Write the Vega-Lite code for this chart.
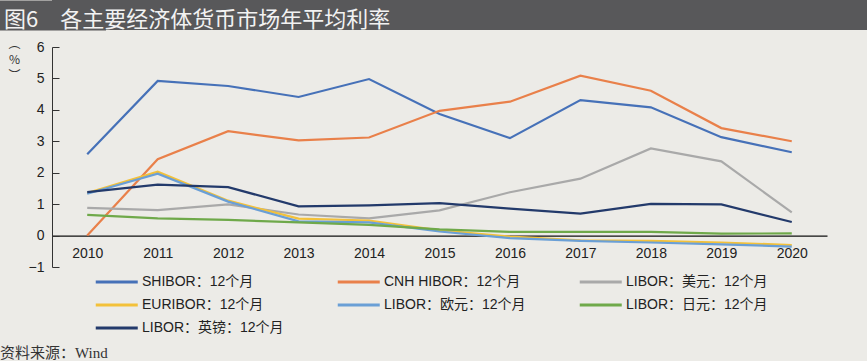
{
  "$schema": "https://vega.github.io/schema/vega-lite/v6.json",
  "background": "#ECEBE7",
  "padding": 0,
  "spacing": 4,
  "resolve": {"scale": {"color": "independent", "y": "independent"}, "legend": {"color": "independent"}, "axis": {"y": "independent"}},
  "config": {"view": {"stroke": null}, "axis": {"grid": false}},
  "vconcat": [
    {
      "width": 815,
      "height": 30,
      "view": {"fill": "#58585A", "stroke": null},
      "title": {"text": "图6　各主要经济体货币市场年平均利率", "orient": "bottom", "anchor": "start", "frame": "group", "offset": -23, "dx": -48, "baseline": "top", "font": "Noto Sans CJK SC", "fontSize": 22, "fontWeight": "normal", "color": "#F2F2F2", "zindex": 2},
      "data": {"values": [{"t": 0}]},
      "mark": {"type": "point", "opacity": 0},
      "encoding": {
        "y": {"field": "t", "type": "quantitative", "scale": {"domain": [0, 1]}, "axis": {"labels": false, "ticks": false, "title": null, "grid": false, "domain": true, "domainColor": "#58585A", "domainWidth": 107, "domainCap": "butt", "zindex": 0}}
      }
    },
    {
      "width": 775,
      "height": 220,
      "title": {"text": "资料来源：Wind", "orient": "bottom", "anchor": "start", "frame": "group", "dx": -52, "offset": 11, "font": "Liberation Serif, Noto Sans CJK SC", "fontSize": 15, "fontWeight": "normal", "color": "#333333"},
      "data": {"values": [
        {"year": 2010, "series": "SHIBOR：12个月", "value": 2.59},
        {"year": 2011, "series": "SHIBOR：12个月", "value": 4.92},
        {"year": 2012, "series": "SHIBOR：12个月", "value": 4.76},
        {"year": 2013, "series": "SHIBOR：12个月", "value": 4.41},
        {"year": 2014, "series": "SHIBOR：12个月", "value": 4.98},
        {"year": 2015, "series": "SHIBOR：12个月", "value": 3.87},
        {"year": 2016, "series": "SHIBOR：12个月", "value": 3.10},
        {"year": 2017, "series": "SHIBOR：12个月", "value": 4.31},
        {"year": 2018, "series": "SHIBOR：12个月", "value": 4.08},
        {"year": 2019, "series": "SHIBOR：12个月", "value": 3.13},
        {"year": 2020, "series": "SHIBOR：12个月", "value": 2.65},
        {"year": 2010, "series": "CNH HIBOR：12个月", "value": 0.0},
        {"year": 2011, "series": "CNH HIBOR：12个月", "value": 2.43},
        {"year": 2012, "series": "CNH HIBOR：12个月", "value": 3.32},
        {"year": 2013, "series": "CNH HIBOR：12个月", "value": 3.03},
        {"year": 2014, "series": "CNH HIBOR：12个月", "value": 3.12},
        {"year": 2015, "series": "CNH HIBOR：12个月", "value": 3.97},
        {"year": 2016, "series": "CNH HIBOR：12个月", "value": 4.26},
        {"year": 2017, "series": "CNH HIBOR：12个月", "value": 5.09},
        {"year": 2018, "series": "CNH HIBOR：12个月", "value": 4.61},
        {"year": 2019, "series": "CNH HIBOR：12个月", "value": 3.42},
        {"year": 2020, "series": "CNH HIBOR：12个月", "value": 3.00},
        {"year": 2010, "series": "LIBOR：美元：12个月", "value": 0.88},
        {"year": 2011, "series": "LIBOR：美元：12个月", "value": 0.81},
        {"year": 2012, "series": "LIBOR：美元：12个月", "value": 0.99},
        {"year": 2013, "series": "LIBOR：美元：12个月", "value": 0.67},
        {"year": 2014, "series": "LIBOR：美元：12个月", "value": 0.55},
        {"year": 2015, "series": "LIBOR：美元：12个月", "value": 0.80},
        {"year": 2016, "series": "LIBOR：美元：12个月", "value": 1.38},
        {"year": 2017, "series": "LIBOR：美元：12个月", "value": 1.81},
        {"year": 2018, "series": "LIBOR：美元：12个月", "value": 2.77},
        {"year": 2019, "series": "LIBOR：美元：12个月", "value": 2.36},
        {"year": 2020, "series": "LIBOR：美元：12个月", "value": 0.74},
        {"year": 2010, "series": "EURIBOR：12个月", "value": 1.35},
        {"year": 2011, "series": "EURIBOR：12个月", "value": 2.03},
        {"year": 2012, "series": "EURIBOR：12个月", "value": 1.11},
        {"year": 2013, "series": "EURIBOR：12个月", "value": 0.54},
        {"year": 2014, "series": "EURIBOR：12个月", "value": 0.48},
        {"year": 2015, "series": "EURIBOR：12个月", "value": 0.17},
        {"year": 2016, "series": "EURIBOR：12个月", "value": -0.03},
        {"year": 2017, "series": "EURIBOR：12个月", "value": -0.15},
        {"year": 2018, "series": "EURIBOR：12个月", "value": -0.17},
        {"year": 2019, "series": "EURIBOR：12个月", "value": -0.22},
        {"year": 2020, "series": "EURIBOR：12个月", "value": -0.30},
        {"year": 2010, "series": "LIBOR：欧元：12个月", "value": 1.33},
        {"year": 2011, "series": "LIBOR：欧元：12个月", "value": 1.97},
        {"year": 2012, "series": "LIBOR：欧元：12个月", "value": 1.08},
        {"year": 2013, "series": "LIBOR：欧元：12个月", "value": 0.45},
        {"year": 2014, "series": "LIBOR：欧元：12个月", "value": 0.42},
        {"year": 2015, "series": "LIBOR：欧元：12个月", "value": 0.13},
        {"year": 2016, "series": "LIBOR：欧元：12个月", "value": -0.08},
        {"year": 2017, "series": "LIBOR：欧元：12个月", "value": -0.17},
        {"year": 2018, "series": "LIBOR：欧元：12个月", "value": -0.22},
        {"year": 2019, "series": "LIBOR：欧元：12个月", "value": -0.28},
        {"year": 2020, "series": "LIBOR：欧元：12个月", "value": -0.35},
        {"year": 2010, "series": "LIBOR：日元：12个月", "value": 0.66},
        {"year": 2011, "series": "LIBOR：日元：12个月", "value": 0.55},
        {"year": 2012, "series": "LIBOR：日元：12个月", "value": 0.50},
        {"year": 2013, "series": "LIBOR：日元：12个月", "value": 0.42},
        {"year": 2014, "series": "LIBOR：日元：12个月", "value": 0.34},
        {"year": 2015, "series": "LIBOR：日元：12个月", "value": 0.20},
        {"year": 2016, "series": "LIBOR：日元：12个月", "value": 0.12},
        {"year": 2017, "series": "LIBOR：日元：12个月", "value": 0.12},
        {"year": 2018, "series": "LIBOR：日元：12个月", "value": 0.12},
        {"year": 2019, "series": "LIBOR：日元：12个月", "value": 0.06},
        {"year": 2020, "series": "LIBOR：日元：12个月", "value": 0.07},
        {"year": 2010, "series": "LIBOR：英镑：12个月", "value": 1.38},
        {"year": 2011, "series": "LIBOR：英镑：12个月", "value": 1.62},
        {"year": 2012, "series": "LIBOR：英镑：12个月", "value": 1.54},
        {"year": 2013, "series": "LIBOR：英镑：12个月", "value": 0.93},
        {"year": 2014, "series": "LIBOR：英镑：12个月", "value": 0.96},
        {"year": 2015, "series": "LIBOR：英镑：12个月", "value": 1.03},
        {"year": 2016, "series": "LIBOR：英镑：12个月", "value": 0.86},
        {"year": 2017, "series": "LIBOR：英镑：12个月", "value": 0.70},
        {"year": 2018, "series": "LIBOR：英镑：12个月", "value": 1.01},
        {"year": 2019, "series": "LIBOR：英镑：12个月", "value": 0.99},
        {"year": 2020, "series": "LIBOR：英镑：12个月", "value": 0.43}
      ]},
      "mark": {"type": "line", "strokeWidth": 2.2},
      "encoding": {
        "x": {
          "field": "year", "type": "quantitative",
          "scale": {"domain": [2009.5, 2020.5], "nice": false, "zero": false},
          "axis": {"values": [2010, 2011, 2012, 2013, 2014, 2015, 2016, 2017, 2018, 2019, 2020], "format": "d", "title": null, "offset": -31.43, "ticks": false, "domainColor": "#111111", "domainWidth": 1.2, "labelFont": "Liberation Sans", "labelFontSize": 14, "labelPadding": 11, "labelColor": "#222222", "grid": false}
        },
        "y": {
          "field": "value", "type": "quantitative",
          "scale": {"domain": [-1, 6], "nice": false, "zero": false},
          "axis": {"values": [-1, 0, 1, 2, 3, 4, 5, 6], "title": ["︵", "%", "︶"], "titleAngle": 0, "titleX": -38, "titleY": -9, "titleBaseline": "top", "titleAlign": "center", "titleFont": "Noto Sans CJK SC", "titleFontSize": 12, "titleFontWeight": "normal", "titleLineHeight": 16, "titleColor": "#333333", "tickSize": -7, "tickColor": "#333333", "domainColor": "#333333", "labelFont": "Liberation Sans", "labelPadding": 15, "labelFontSize": 14, "labelColor": "#222222", "grid": false}
        },
        "color": {
          "field": "series", "type": "nominal", "sort": null,
          "scale": {
            "domain": ["SHIBOR：12个月", "CNH HIBOR：12个月", "LIBOR：美元：12个月", "EURIBOR：12个月", "LIBOR：欧元：12个月", "LIBOR：日元：12个月", "LIBOR：英镑：12个月"],
            "range": ["#4671B8", "#E9804A", "#A9A9A9", "#F3C13A", "#6A9FD6", "#6FA94A", "#233A6B"]
          },
          "legend": {"orient": "none", "legendX": 42, "legendY": 228, "columns": 3, "direction": "horizontal", "title": null, "symbolType": "M-1,0H7", "symbolSize": 110.25, "symbolStrokeWidth": 3, "labelFont": "Liberation Sans, Noto Sans CJK SC", "labelFontSize": 14, "labelColor": "#222222", "labelOffset": 34, "rowPadding": 9, "columnPadding": 47, "gridAlign": "all", "labelLimit": 400, "padding": 0}
        }
      }
    }
  ]
}
